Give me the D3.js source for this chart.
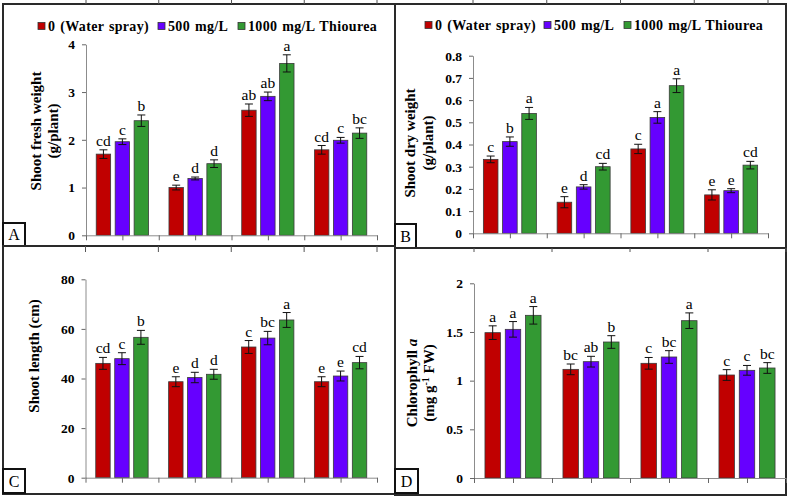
<!DOCTYPE html>
<html>
<head>
<meta charset="utf-8">
<script src="https://cdn.jsdelivr.net/npm/d3@7"></script>
<style>
body { margin: 0; background: #fff; }
svg text { font-family: "Liberation Serif", "Times New Roman", "DejaVu Serif", serif; }
</style>
</head>
<body>
<script>
// data
var seriesNames = ["0 (Water spray)", "500 mg/L", "1000 mg/L Thiourea"];
var seriesColors = ["#c00000", "#6600ff", "#339933"];
var groups = ["g1", "g2", "g3", "g4"];

var freshMean = [[1.70, 1.96, 2.40], [1.00, 1.19, 1.50], [2.62, 2.91, 3.60], [1.79, 1.99, 2.14]];
var freshErr = [[0.09, 0.06, 0.12], [0.05, 0.03, 0.08], [0.13, 0.09, 0.18], [0.09, 0.06, 0.11]];
var freshLetters = [["cd", "c", "b"], ["e", "d", "d"], ["ab", "ab", "a"], ["cd", "c", "bc"]];
var freshTicks = [0, 1, 2, 3, 4];

var dryMean = [[0.333, 0.413, 0.540], [0.140, 0.209, 0.300], [0.380, 0.522, 0.665], [0.173, 0.192, 0.307]];
var dryErr = [[0.015, 0.021, 0.027], [0.025, 0.010, 0.015], [0.021, 0.026, 0.031], [0.023, 0.009, 0.017]];
var dryLetters = [["c", "b", "a"], ["e", "d", "cd"], ["c", "a", "a"], ["e", "e", "cd"]];
var dryTicks = [0, 0.1, 0.2, 0.3, 0.4, 0.5, 0.6, 0.7, 0.8];

var lengthMean = [[46.1, 48.0, 56.6], [38.7, 40.4, 41.7], [52.7, 56.3, 63.6], [38.7, 41.0, 46.4]];
var lengthErr = [[2.4, 2.4, 2.8], [2.0, 2.1, 2.0], [2.6, 2.7, 3.0], [2.0, 2.0, 2.5]];
var lengthLetters = [["cd", "c", "b"], ["e", "d", "d"], ["c", "bc", "a"], ["e", "e", "cd"]];
var lengthTicks = [0, 20, 40, 60, 80];

var chlMean = [[1.493, 1.527, 1.671], [1.116, 1.195, 1.397], [1.178, 1.243, 1.616], [1.058, 1.106, 1.130]];
var chlErr = [[0.07, 0.08, 0.09], [0.055, 0.055, 0.065], [0.06, 0.065, 0.08], [0.055, 0.05, 0.055]];
var chlLetters = [["a", "a", "a"], ["bc", "ab", "b"], ["c", "bc", "a"], ["c", "c", "bc"]];
var chlTicks = [0, 0.5, 1, 1.5, 2];

var W = 789, H = 497;
var serif = "'Liberation Serif', 'Times New Roman', 'DejaVu Serif', serif";
var svg = d3.select("body").append("svg").attr("width", W).attr("height", H);

var panels = [
  {tag: "A", mean: freshMean, err: freshErr, letters: freshLetters, ticks: freshTicks,
   frame: [3, 4, 395, 246], xr: [86, 377], yr: [235.3, 44.3], topTick: [0, 4],
   box: [3, 223, 22, 23], legendY: 31, legendX: [38, 158, 238],
   title: ["Shoot fresh weight", "(g/plant)"], titleX: [41, 58], titleY: 131},
  {tag: "B", mean: dryMean, err: dryErr, letters: dryLetters, ticks: dryTicks,
   frame: [395, 4, 786, 248], xr: [473, 768], yr: [233.3, 55.7], topTick: [0, 4],
   box: [395, 224, 21, 24], legendY: 30, legendX: [425, 544, 624],
   title: ["Shoot dry weight", "(g/plant)"], titleX: [415, 433], titleY: 143},
  {tag: "C", mean: lengthMean, err: lengthErr, letters: lengthLetters, ticks: lengthTicks,
   frame: [3, 246, 395, 494], xr: [85.5, 377], yr: [477.7, 279.3], topTick: [246, 252],
   box: [3, 469, 22, 24],
   title: ["Shoot length (cm)"], titleX: [39], titleY: 356},
  {tag: "D", mean: chlMean, err: chlErr, letters: chlLetters, ticks: chlTicks,
   frame: [395, 248, 786, 495], xr: [474, 786], yr: [478, 283.3], topTick: [248, 252],
   box: [395, 469, 23, 24],
   title: ["chl", "unit"], titleX: [417, 434], titleY: 383}
];

function drawPanel(p)
{
  var g = svg.append("g");
  var ymax = p.ticks[p.ticks.length - 1];
  var x = d3.scaleBand().domain(groups).range(p.xr).padding(0);
  var xs = d3.scaleBand().domain(d3.range(seriesNames.length)).range([0, x.bandwidth()])
    .paddingInner(0.24).paddingOuter(0.54);
  var y = d3.scaleLinear().domain([0, ymax]).range(p.yr);
  var half = d3.scaleLinear().domain([0, groups.length * 2]).range(p.xr);

  // frame
  g.append("rect")
    .attr("x", p.frame[0]).attr("y", p.frame[1])
    .attr("width", p.frame[2] - p.frame[0]).attr("height", p.frame[3] - p.frame[1])
    .attr("fill", "none").attr("stroke", "#2a2a2a").attr("stroke-width", 2);

  // stray ticks left over from the cropped axis above
  var bx = d3.scaleLinear().domain([0, groups.length]).range(p.xr);
  g.selectAll(".toptick").data(d3.range(groups.length + 1)).enter().append("line")
    .attr("x1", function(d) { return bx(d); }).attr("x2", function(d) { return bx(d); })
    .attr("y1", p.topTick[0]).attr("y2", p.topTick[1])
    .attr("stroke", "#555").attr("stroke-width", 1);

  // bars
  groups.forEach(function(gr, i)
  {
    var gg = g.append("g").attr("transform", "translate(" + x(gr) + ",0)");
    p.mean[i].forEach(function(v, j)
    {
      var cx = xs(j) + xs.bandwidth() / 2;
      gg.append("rect")
        .attr("x", xs(j)).attr("y", y(v))
        .attr("width", xs.bandwidth()).attr("height", y(0) - y(v))
        .attr("fill", seriesColors[j]).attr("stroke", "#3a3a3a").attr("stroke-width", 0.8);
      var e = p.err[i][j];
      gg.append("line").attr("x1", cx).attr("x2", cx).attr("y1", y(v - e)).attr("y2", y(v + e))
        .attr("stroke", "#111").attr("stroke-width", 1);
      gg.append("line").attr("x1", cx - 4).attr("x2", cx + 4).attr("y1", y(v + e)).attr("y2", y(v + e))
        .attr("stroke", "#111").attr("stroke-width", 1);
      gg.append("line").attr("x1", cx - 4).attr("x2", cx + 4).attr("y1", y(v - e)).attr("y2", y(v - e))
        .attr("stroke", "#111").attr("stroke-width", 1);
      gg.append("text")
        .attr("x", cx).attr("y", y(v + e) - 4)
        .attr("text-anchor", "middle")
        .style("font-family", serif)
        .style("font-size", "15.5px")
        .text(p.letters[i][j]);
    });
  });

  // axes
  var ya = g.append("g").attr("transform", "translate(" + p.xr[0] + ",0)")
    .call(d3.axisLeft(y).tickValues(p.ticks).tickSize(4).tickSizeOuter(0).tickPadding(7)
      .tickFormat(function(d) { return String(+d.toFixed(2)); }));
  ya.attr("font-family", null);
  ya.selectAll("text").style("font-size", "13.5px").style("font-weight", "bold")
    .style("font-family", serif).attr("fill", "#000");
  ya.select(".domain").attr("stroke", "#8c8c8c");
  ya.selectAll(".tick line").attr("stroke", "#666");

  var xa = g.append("g").attr("transform", "translate(0," + p.yr[0] + ")")
    .call(d3.axisBottom(half).tickValues(d3.range(groups.length * 2 + 1)).tickSize(5)
      .tickSizeOuter(0).tickFormat(""));
  xa.select(".domain").attr("stroke", "#8c8c8c");
  xa.selectAll(".tick line").attr("stroke", "#666");

  // y title
  var tt = g.append("g");
  p.title.forEach(function(t, k)
  {
    var txt = tt.append("text")
      .attr("transform", "translate(" + p.titleX[k] + "," + p.titleY + ") rotate(-90)")
      .attr("text-anchor", "middle")
      .style("font-family", serif)
      .style("font-size", "15px").style("font-weight", "bold");
    if (t == "chl")
    {
      txt.append("tspan").text("Chlorophyll ");
      txt.append("tspan").style("font-style", "italic").text("a");
    }
    else if (t == "unit")
    {
      txt.append("tspan").text("(mg g");
      txt.append("tspan").attr("dy", -5).style("font-size", "10px").text("-1");
      txt.append("tspan").attr("dy", 5).text(" FW)");
    }
    else txt.text(t);
  });

  // legend
  if (p.legendX)
  {
    seriesNames.forEach(function(s, j)
    {
      g.append("rect")
        .attr("x", p.legendX[j]).attr("y", p.legendY - 8.5)
        .attr("width", 7).attr("height", 7)
        .attr("fill", seriesColors[j]).attr("stroke", "#333").attr("stroke-width", 0.8);
      g.append("text")
        .attr("x", p.legendX[j] + 10).attr("y", p.legendY)
        .style("font-family", serif)
        .style("font-size", "14px").style("font-weight", "bold")
        .style("letter-spacing", "0.35px").style("word-spacing", "1px")
        .text(s);
    });
  }

  // panel letter box
  g.append("rect")
    .attr("x", p.box[0]).attr("y", p.box[1]).attr("width", p.box[2]).attr("height", p.box[3])
    .attr("fill", "#fff").attr("stroke", "#111").attr("stroke-width", 2);
  g.append("text")
    .attr("x", p.box[0] + p.box[2] / 2).attr("y", p.box[1] + p.box[3] / 2 + 5.5)
    .attr("text-anchor", "middle")
    .style("font-family", serif)
    .style("font-size", "16px")
    .text(p.tag);
}

panels.forEach(drawPanel);
</script>
</body>
</html>
